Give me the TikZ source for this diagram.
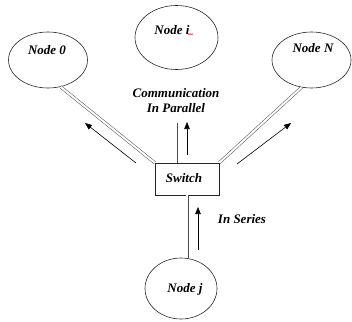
\documentclass[tikz,border=0pt]{standalone}
\usepackage{fontspec}
\setmainfont{Liberation Serif}
\usetikzlibrary{shapes.geometric,arrows.meta}
\tikzset{
  peer/.style={ellipse, draw=black!85, line width=0.6pt, inner sep=0pt},
  lbl/.style={font=\fontsize{13}{15}\selectfont\bfseries\itshape, inner sep=0pt, align=center},
  switchbox/.style={draw=black!85, line width=0.6pt, minimum width=64pt, minimum height=32pt, inner sep=0pt},
  link/.style={draw=black!70, line width=0.5pt, double=white, double distance=2pt},
  flow/.style={draw=black, line width=0.6pt, -{Triangle[length=7pt,width=5.5pt]}},
}
\begin{document}
\begin{tikzpicture}[x=1pt, y=-1pt]
  \useasboundingbox (0,0) rectangle (352,321);

  % end nodes round the switch
  \node[peer, minimum width=83pt, minimum height=64pt] (ni) at (176.5,37.5) {};
  \node[peer, minimum width=79pt, minimum height=56pt] (n0) at (48,60) {};
  \node[peer, minimum width=79pt, minimum height=56pt] (nN) at (311.5,60) {};
  \node[peer, minimum width=72pt, minimum height=61pt] (nj) at (181,288.5) {};

  \node[lbl] (ti) at (172,30) {Node i};
  \node[lbl] (t0) at (47,50) {Node 0};
  \node[lbl] (tN) at (313,48) {Node N};
  \node[lbl] (tj) at (185,289) {Node j};

  % spelling underline below the i
  \draw[red, line width=0.4pt] (188,33.5) -- (189,35) -- (190,33.5) -- (191,35) -- (192,33.5) -- (193,35);

  % switch
  \node[switchbox] (sw) at (187,179) {};
  \node[lbl] (tsw) at (184,178) {Switch};

  % captions
  \node[lbl] (par) at (176,100.5) {Communication\\In Parallel};
  \node[lbl] (ser) at (242,219) {In Series};

  % links
  \coordinate (up) at (176,123);
  \draw[link] (n0.-65) -- (sw.north west);
  \draw[link] (nN.-110) -- (sw.north east);
  \draw[link] (sw.north -| up) -- (up);
  \draw[link] (sw.south) -- (sw.south |- nj.north);

  % direction arrows
  \coordinate (la0) at (136,163);
  \coordinate (la1) at (85,123);
  \coordinate (ra0) at (237,164);
  \coordinate (ra1) at (291,123);
  \coordinate (ua0) at (187,155);
  \coordinate (ua1) at (187,122);
  \coordinate (sa0) at (198,250);
  \coordinate (sa1) at (198,207);
  \draw[flow] (la0) -- (la1);
  \draw[flow] (ra0) -- (ra1);
  \draw[flow] (ua0) -- (ua1);
  \draw[flow] (sa0) -- (sa1);
\end{tikzpicture}
\end{document}
